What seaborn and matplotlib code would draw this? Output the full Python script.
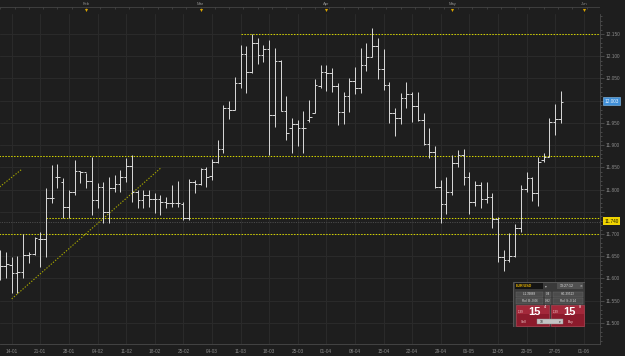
import numpy as np
import pandas as pd
import matplotlib
matplotlib.use("Agg")
import matplotlib.pyplot as plt
import seaborn as sns
from matplotlib.ticker import MultipleLocator
from matplotlib.patches import Rectangle
from matplotlib.transforms import blended_transform_factory

# ---------------- data (daily OHLC, one bar per trading day) ----------------
opens = [11.626, 11.628, 11.630, 11.612, 11.615, 11.653, 11.655, 11.689, 11.689, 11.781,
         11.828, 11.817, 11.761, 11.795, 11.842, 11.840, 11.819, 11.777, 11.806, 11.750,
         11.804, 11.813, 11.828, 11.853, 11.795, 11.777, 11.788, 11.779, 11.779, 11.772,
         11.770, 11.770, 11.768, 11.736, 11.817, 11.813, 11.846, 11.830, 11.862, 11.891,
         11.984, 11.979, 12.040, 12.105, 12.065, 12.130, 12.103, 12.116, 11.968, 12.089,
         11.977, 11.939, 11.948, 11.939, 11.957, 11.972, 12.033, 12.065, 12.062, 12.033,
         11.975, 12.011, 12.044, 12.029, 12.080, 12.098, 12.123, 12.071, 12.035, 11.972,
         11.961, 12.006, 12.015, 11.988, 11.957, 11.903, 11.885, 11.806, 11.768, 11.795,
         11.860, 11.878, 11.828, 11.772, 11.810, 11.779, 11.783, 11.734, 11.648, 11.642,
         11.651, 11.714, 11.801, 11.826, 11.792, 11.867, 11.873, 11.952, 11.959]
highs = [11.664, 11.660, 11.648, 11.651, 11.700, 11.660, 11.693, 11.705, 11.804, 11.855,
         11.858, 11.826, 11.799, 11.867, 11.842, 11.838, 11.873, 11.815, 11.817, 11.828,
         11.833, 11.844, 11.871, 11.878, 11.799, 11.799, 11.799, 11.792, 11.788, 11.783,
         11.810, 11.819, 11.772, 11.824, 11.822, 11.849, 11.851, 11.869, 11.912, 11.990,
         11.999, 12.053, 12.125, 12.123, 12.150, 12.141, 12.125, 12.137, 12.119, 12.092,
         12.011, 11.961, 11.957, 11.977, 12.002, 12.049, 12.080, 12.080, 12.074, 12.040,
         12.020, 12.051, 12.076, 12.119, 12.130, 12.164, 12.141, 12.116, 12.042, 11.984,
         12.017, 12.042, 12.020, 12.020, 11.972, 11.939, 11.898, 11.822, 11.828, 11.878,
         11.889, 11.891, 11.840, 11.819, 11.817, 11.817, 11.792, 11.738, 11.664, 11.702,
         11.723, 11.810, 11.840, 11.828, 11.873, 11.882, 11.961, 11.993, 12.022]
lows = [11.597, 11.601, 11.567, 11.567, 11.601, 11.635, 11.653, 11.626, 11.648, 11.770,
        11.804, 11.736, 11.736, 11.788, 11.815, 11.804, 11.743, 11.759, 11.725, 11.725,
        11.795, 11.795, 11.817, 11.772, 11.759, 11.759, 11.761, 11.747, 11.743, 11.759,
        11.761, 11.761, 11.732, 11.732, 11.792, 11.810, 11.806, 11.822, 11.860, 11.882,
        11.959, 11.979, 12.029, 12.017, 12.062, 12.083, 12.087, 11.878, 11.941, 11.977,
        11.912, 11.882, 11.898, 11.882, 11.952, 11.972, 12.029, 12.022, 12.020, 11.945,
        11.948, 11.975, 12.015, 12.017, 12.067, 12.098, 12.049, 12.024, 11.950, 11.921,
        11.948, 11.984, 11.952, 11.954, 11.900, 11.871, 11.804, 11.725, 11.745, 11.788,
        11.851, 11.810, 11.745, 11.763, 11.759, 11.770, 11.714, 11.637, 11.617, 11.637,
        11.648, 11.705, 11.795, 11.774, 11.763, 11.862, 11.873, 11.923, 11.950]
closes = [11.628, 11.633, 11.612, 11.615, 11.653, 11.655, 11.691, 11.689, 11.781, 11.781,
          11.828, 11.761, 11.795, 11.842, 11.840, 11.819, 11.777, 11.806, 11.750, 11.804,
          11.813, 11.828, 11.853, 11.795, 11.777, 11.788, 11.779, 11.779, 11.772, 11.770,
          11.770, 11.770, 11.736, 11.817, 11.813, 11.846, 11.828, 11.862, 11.891, 11.984,
          11.979, 12.040, 12.105, 12.065, 12.130, 12.103, 12.116, 11.968, 12.089, 11.977,
          11.927, 11.948, 11.939, 11.939, 11.963, 12.035, 12.065, 12.062, 12.033, 11.975,
          12.011, 12.044, 12.029, 12.080, 12.098, 12.123, 12.071, 12.035, 11.972, 11.961,
          12.006, 12.015, 11.988, 11.957, 11.903, 11.885, 11.806, 11.768, 11.795, 11.860,
          11.878, 11.828, 11.772, 11.810, 11.779, 11.783, 11.734, 11.648, 11.642, 11.651,
          11.714, 11.801, 11.826, 11.792, 11.862, 11.873, 11.952, 11.959, 11.997]

week_labels = ["14-01", "21-01", "28-01", "04-02", "11-02", "18-02", "25-02", "04-03",
               "11-03", "18-03", "25-03", "01-04", "08-04", "15-04", "22-04", "29-04",
               "06-05", "13-05", "20-05", "27-05", "01-06"]
first_monday = 2                       # bar index of 14-01
month_labels = ["Feb", "Mar", "Apr", "May", "Jun"]
month_bars = [15, 35, 57, 79, 102]
price_ticks = [11.50, 11.55, 11.60, 11.65, 11.70, 11.75, 11.80, 11.85, 11.90,
               11.95, 12.00, 12.05, 12.10, 12.15]
hidden_ticks = [11.75, 12.00]          # covered by the highlighted price boxes
level_prices = [12.150, 11.875, 11.736, 11.700]
level_from = [42, None, 8, None]
current_line = 11.727
trend_line = ["a", "a", "b", "b"]
trend_bar = [-0.1, 3.8, 2.0, 28.1]
trend_price = [11.806, 11.846, 11.554, 11.849]
last_price_text, last_price = "12.003", 11.999
alert_text, alert_price = "11.740", 11.729

# ---------------- style ----------------
BG = "#1e1e1e"
GRID = "#2b2b2b"
BAR = "#dadada"
TXT = "#8c8c8c"
YEL = "#d2d200"
DIAG = "#a6a600"

sns.set_theme(style="dark", rc={"axes.facecolor": BG, "figure.facecolor": BG,
                                "grid.color": GRID, "axes.edgecolor": "#4a4a4a"})
plt.rcParams["font.family"] = ["Liberation Sans", "DejaVu Sans"]

W, H = 625, 356


def px_rect(x0, y0, x1, y1):
    return [x0 / W, 1 - y1 / H, (x1 - x0) / W, (y1 - y0) / H]


fig = plt.figure(figsize=(W / 100, H / 100), dpi=100)
fig.patch.set_facecolor(BG)

# ---------------- main price panel ----------------
ax = fig.add_axes(px_rect(0, 14, 600, 343.5))
ax.set_facecolor(BG)
n = len(opens)
idx = np.arange(n)
df = pd.DataFrame({"bar": idx, "open": opens, "high": highs, "low": lows, "close": closes})

# horizontal levels
for p, start in zip(level_prices, level_from):
    x0 = -1 if start is None else start
    ax.hlines(p, x0, 106, color=YEL, lw=0.75, linestyles=(0, (1.4, 1.4)), zorder=2)
ax.hlines(current_line, -1, 106, color="#4a4a4a", lw=0.7, linestyles=(0, (1.2, 1.2)), zorder=1.5)

# trend lines (seaborn)
trend = pd.DataFrame({"line": trend_line, "bar": trend_bar, "price": trend_price})
sns.lineplot(data=trend, x="bar", y="price", units="line", estimator=None, color=DIAG,
             lw=0.8, linestyle=(0, (1.2, 1.4)), ax=ax, legend=False, zorder=2)

# OHLC bars
ax.vlines(df["bar"], df["low"], df["high"], color=BAR, lw=0.7, zorder=3)
ax.hlines(df["open"], df["bar"] - 0.45, df["bar"], color=BAR, lw=0.7, zorder=3)
ax.hlines(df["close"], df["bar"], df["bar"] + 0.45, color=BAR, lw=0.7, zorder=3)

ax.set_xlim(-0.052, 104.84)
ax.set_ylim(11.4536, 12.195)
ax.set_xlabel("")
ax.set_ylabel("")

week_pos = list(range(first_monday, first_monday + 5 * len(week_labels), 5))
ax.set_xticks(week_pos)
ax.set_xticklabels(week_labels)
ax.set_xticks(np.arange(0, 105), minor=True)

ax.yaxis.tick_right()
ax.set_yticks(price_ticks)
ax.set_yticklabels(["" if t in hidden_ticks else f"{t:.3f}" for t in price_ticks])
ax.yaxis.set_minor_locator(MultipleLocator(0.01))

ax.set_axisbelow(True)
ax.grid(True, which="major", color=GRID, lw=0.7)
ax.tick_params(axis="both", which="both", colors="#5a5a5a", labelcolor=TXT,
               labelsize=3.4, direction="out", width=0.5)
ax.tick_params(axis="x", which="major", length=3, pad=1.2)
ax.tick_params(axis="x", which="minor", length=1.5)
ax.tick_params(axis="y", which="major", length=3, pad=1.2, labelright=True, labelleft=False)
ax.tick_params(axis="y", which="minor", length=1.5)
for side in ["top", "left"]:
    ax.spines[side].set_visible(False)
for side in ["right", "bottom"]:
    ax.spines[side].set_visible(True)
    ax.spines[side].set_color("#4a4a4a")
    ax.spines[side].set_linewidth(0.6)

tr = blended_transform_factory(ax.transAxes, ax.transData)
ax.text(1.0075, last_price, last_price_text, transform=tr, fontsize=3.4, color="#eaf4ff",
        va="center", ha="left", clip_on=False,
        bbox=dict(boxstyle="square,pad=0.3", fc="#3f8fd8", ec="#8cc4f0", lw=0.4))
ax.text(1.0075, alert_price, alert_text, transform=tr, fontsize=3.4, color="#1a1a00",
        va="center", ha="left", clip_on=False,
        bbox=dict(boxstyle="square,pad=0.3", fc="#f0d400", ec="none"))

# ---------------- top month strip ----------------
axt = fig.add_axes(px_rect(0, 0, 600, 14))
axt.set_facecolor(BG)
axt.set_xlim(ax.get_xlim())
axt.set_ylim(14, 0)
axt.axis("off")
axt.axhline(7, color="#3e3e3e", lw=0.7)
axt.axhline(13.6, color="#333333", lw=0.6)
axt.vlines(np.arange(0, 105, 2.5), 7, 9.3, color="#4a4a4a", lw=0.5)
for lab, b in zip(month_labels, month_bars):
    axt.text(b, 3.6, lab, fontsize=3.0, color=TXT, ha="center", va="center")
axt.scatter(month_bars, [9.8] * len(month_bars), marker="v", s=5, color="#d9a400",
            linewidths=0, zorder=3)

# ---------------- order-ticket widget ----------------
axw = fig.add_axes(px_rect(513, 282, 585, 327))
axw.set_xlim(0, 72)
axw.set_ylim(45, 0)
axw.axis("off")


def box(x, y, w, h, fc, ec="none", lw=0.4):
    axw.add_patch(Rectangle((x, y), w, h, fc=fc, ec=ec, lw=lw))


box(0, 0, 72, 45, "#3a3a3a", "#5c5c5c", 0.6)
box(1.5, 1, 28, 6, "#141414")
axw.text(3, 4, "EUR/USD", fontsize=2.6, color="#e8b400", va="center", ha="left", weight="bold")
axw.text(33, 4, "▾", fontsize=2.6, color="#bbbbbb", va="center", ha="center")
box(44, 1, 26, 6, "#505050")
axw.text(47, 4, "13:27:12", fontsize=2.6, color="#dddddd", va="center", ha="left")
axw.text(68, 4, "✕", fontsize=2.4, color="#dddddd", va="center", ha="center")
for (x, w, t) in [(3, 27, "L:1.39868"), (31.5, 6, "0.4"), (40, 30, "H:1.39513")]:
    box(x, 9.5, w, 5.5, "#4c4c4c", "#6a6a6a", 0.3)
    axw.text(x + w / 2, 12.3, t, fontsize=2.2, color="#dddddd", va="center", ha="center")
for (x, w, t) in [(3, 27, "Roll B:-0.06"), (31.5, 6, "0.92"), (40, 30, "Roll S:-0.14")]:
    box(x, 16, w, 5.5, "#4c4c4c", "#6a6a6a", 0.3)
    axw.text(x + w / 2, 18.8, t, fontsize=2.2, color="#dddddd", va="center", ha="center")
for (x, sup, side) in [(3, "4", "Sell"), (38, "8", "Buy")]:
    box(x, 23, 33, 20.5, "#8c1b2c", "#c04a5a", 0.4)
    box(x + 0.5, 23.5, 32, 8, "#a3283a")
    axw.text(x + 5, 30, "1,39", fontsize=2.2, color="#f0d0d0", va="center", ha="center")
    axw.text(x + 18, 30, "15", fontsize=8, color="white", va="center", ha="center", weight="bold")
    axw.text(x + 28.5, 25.5, sup, fontsize=2.8, color="white", va="center", ha="center")
    axw.text(x + (8 if side == "Sell" else 20), 40, side, fontsize=2.4, color="#f0d0d0",
             va="center", ha="center")
box(24, 37, 26, 5, "#c4c4c4", "#888888", 0.3)
axw.text(28.5, 39.6, "10", fontsize=2.4, color="#222222", va="center", ha="center")
axw.text(47, 39.6, "▾", fontsize=2.4, color="#222222", va="center", ha="center")

fig.savefig("out.png", dpi=100, facecolor=BG)
